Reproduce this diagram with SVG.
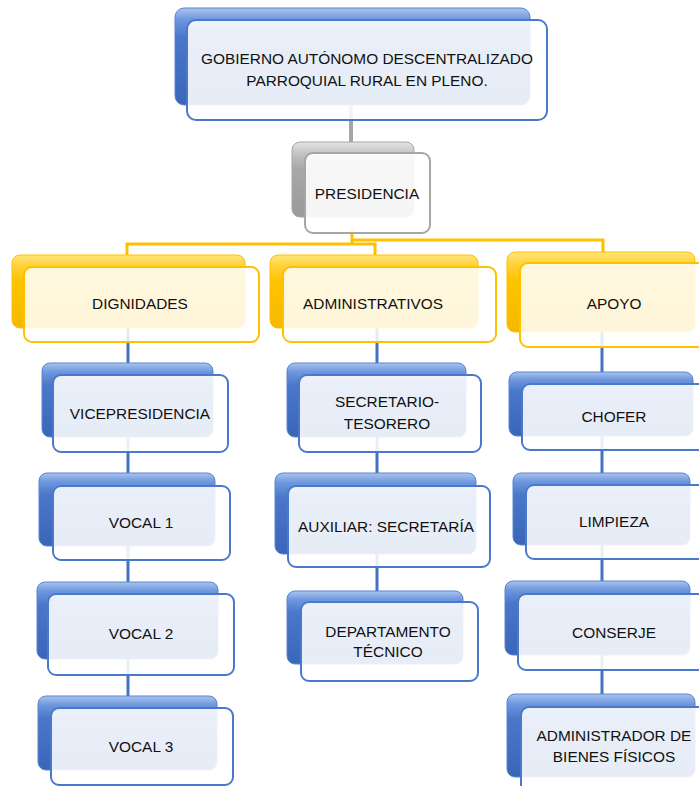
<svg xmlns="http://www.w3.org/2000/svg" width="699" height="786" viewBox="0 0 699 786">
<defs>
<linearGradient id="gBlue" x1="0" y1="0" x2="0" y2="1">
<stop offset="0" stop-color="#A9C4EE"/>
<stop offset="0.12" stop-color="#6E97DE"/>
<stop offset="0.3" stop-color="#4A77C9"/>
<stop offset="1" stop-color="#3A66BA"/>
</linearGradient>
<linearGradient id="gGold" x1="0" y1="0" x2="0" y2="1">
<stop offset="0" stop-color="#FFE57A"/>
<stop offset="0.15" stop-color="#FFD23A"/>
<stop offset="0.35" stop-color="#FFC400"/>
<stop offset="1" stop-color="#F5B800"/>
</linearGradient>
<linearGradient id="gGray" x1="0" y1="0" x2="0" y2="1">
<stop offset="0" stop-color="#E4E4E4"/>
<stop offset="0.15" stop-color="#C4C4C4"/>
<stop offset="0.35" stop-color="#A8A8A8"/>
<stop offset="1" stop-color="#9A9A9A"/>
</linearGradient>
</defs>
<style>
.bb{fill:url(#gBlue);stroke:#5A85D0;stroke-width:1}
.bf{fill:#FFFFFF;fill-opacity:0.88;stroke:#4A78CC;stroke-width:2}
.yb{fill:url(#gGold);stroke:#FFC000;stroke-width:1}
.yf{fill:#FFFFFF;fill-opacity:0.86;stroke:#FFC000;stroke-width:2}
.gb{fill:url(#gGray);stroke:#A6A6A6;stroke-width:1}
.gf{fill:#FFFFFF;fill-opacity:0.9;stroke:#A6A6A6;stroke-width:2}
text{font-family:"Liberation Sans",Arial,sans-serif;font-size:15.4px;fill:#111;text-anchor:middle;dominant-baseline:central}
.cb{fill:none;stroke:#4472C4;stroke-width:3}
.cy{fill:none;stroke:#FFC000;stroke-width:3}
.cg{fill:none;stroke:#A6A6A6;stroke-width:4}
</style>
<g id="connectors">
<path class="cg" d="M351,105 V156"/>
<path class="cy" d="M352,228 V244 M127,258 V244 H375 V258 M352,240 H603 V256"/>
<path class="cb" d="M128,303 V710"/>
<path class="cb" d="M377,303 V604"/>
<path class="cb" d="M602,303 V708"/>
</g>
<g id="n-gobierno">
<rect class="bb" x="175" y="8" width="355" height="97" rx="9"/>
<rect class="bf" x="187" y="20" width="360" height="100" rx="9"/>
<text x="367" y="58">GOBIERNO AUTÓNOMO DESCENTRALIZADO</text>
<text x="367" y="80">PARROQUIAL RURAL EN PLENO.</text>
</g>
<g id="n-presidencia">
<rect class="gb" x="292" y="142" width="122" height="75" rx="8"/>
<rect class="gf" x="305" y="153" width="125" height="80" rx="8"/>
<text x="367" y="193">PRESIDENCIA</text>
</g>
<g id="n-dignidades">
<rect class="yb" x="12" y="255" width="233" height="73" rx="8"/>
<rect class="yf" x="24" y="267" width="235" height="75" rx="8"/>
<text x="140" y="303">DIGNIDADES</text>
</g>
<g id="n-administrativos">
<rect class="yb" x="270" y="255" width="208" height="73" rx="8"/>
<rect class="yf" x="283" y="267" width="213" height="75" rx="8"/>
<text x="373" y="303">ADMINISTRATIVOS</text>
</g>
<g id="n-apoyo">
<rect class="yb" x="507" y="252" width="188" height="80" rx="8"/>
<rect class="yf" x="520" y="263" width="190" height="84" rx="8"/>
<text x="614" y="303">APOYO</text>
</g>
<g id="n-vicepresidencia">
<rect class="bb" x="42" y="363" width="171" height="74" rx="8"/>
<rect class="bf" x="53" y="375" width="175" height="77" rx="8"/>
<text x="140" y="413">VICEPRESIDENCIA</text>
</g>
<g id="n-vocal1">
<rect class="bb" x="39" y="473" width="176" height="73" rx="8"/>
<rect class="bf" x="53" y="486" width="177" height="74" rx="8"/>
<text x="141" y="522">VOCAL 1</text>
</g>
<g id="n-vocal2">
<rect class="bb" x="37" y="582" width="181" height="77" rx="8"/>
<rect class="bf" x="48" y="594" width="186" height="81" rx="8"/>
<text x="141" y="633">VOCAL 2</text>
</g>
<g id="n-vocal3">
<rect class="bb" x="38" y="696" width="179" height="74" rx="8"/>
<rect class="bf" x="51" y="708" width="182" height="77" rx="8"/>
<text x="141" y="746">VOCAL 3</text>
</g>
<g id="n-secretario">
<rect class="bb" x="287" y="363" width="179" height="74" rx="8"/>
<rect class="bf" x="299" y="375" width="182" height="77" rx="8"/>
<text x="387" y="401">SECRETARIO-</text>
<text x="387" y="423">TESORERO</text>
</g>
<g id="n-auxiliar">
<rect class="bb" x="275" y="473" width="201" height="81" rx="8"/>
<rect class="bf" x="288" y="486" width="202" height="81" rx="8"/>
<text x="386" y="526">AUXILIAR: SECRETARÍA</text>
</g>
<g id="n-departamento">
<rect class="bb" x="287" y="591" width="176" height="73" rx="8"/>
<rect class="bf" x="301" y="602" width="177" height="79" rx="8"/>
<text x="388" y="631">DEPARTAMENTO</text>
<text x="388" y="651">TÉCNICO</text>
</g>
<g id="n-chofer">
<rect class="bb" x="509" y="372" width="184" height="64" rx="8"/>
<rect class="bf" x="522" y="384" width="190" height="66" rx="8"/>
<text x="614" y="416">CHOFER</text>
</g>
<g id="n-limpieza">
<rect class="bb" x="513" y="473" width="177" height="72" rx="8"/>
<rect class="bf" x="526" y="485" width="186" height="74" rx="8"/>
<text x="614" y="521">LIMPIEZA</text>
</g>
<g id="n-conserje">
<rect class="bb" x="505" y="581" width="185" height="74" rx="8"/>
<rect class="bf" x="518" y="594" width="194" height="76" rx="8"/>
<text x="614" y="632">CONSERJE</text>
</g>
<g id="n-administrador">
<rect class="bb" x="507" y="694" width="188" height="83" rx="8"/>
<rect class="bf" x="521" y="707" width="191" height="86" rx="8"/>
<text x="614" y="735">ADMINISTRADOR DE</text>
<text x="614" y="756">BIENES FÍSICOS</text>
</g>
</svg>
